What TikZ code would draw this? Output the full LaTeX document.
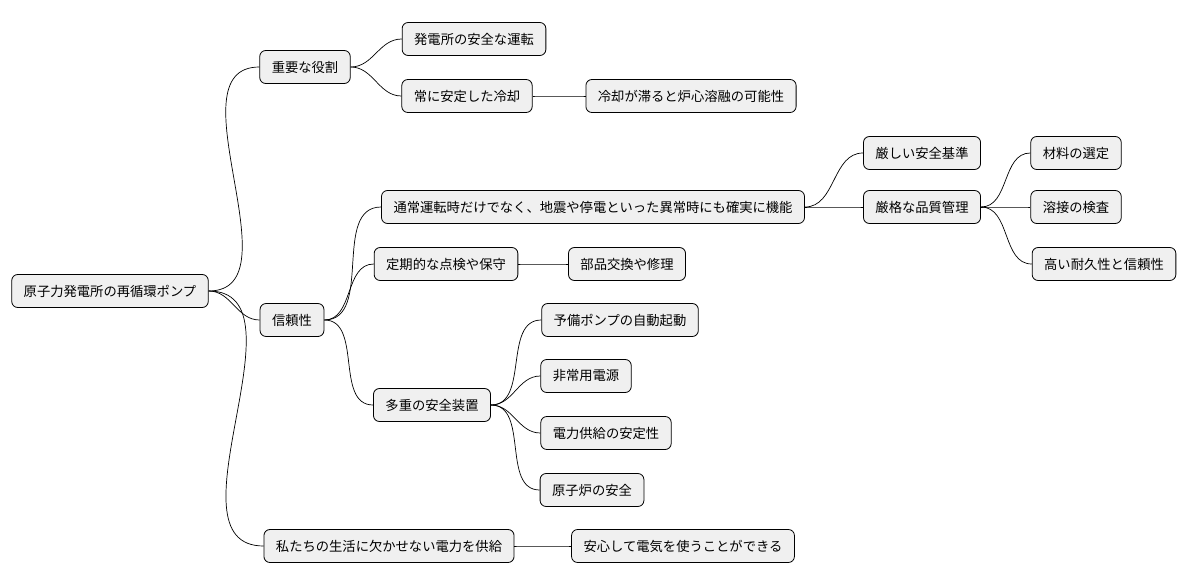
\documentclass[tikz,border=0pt]{standalone}
\usepackage{fontspec}
\setmainfont{Noto Sans CJK JP}
\usetikzlibrary{positioning}

\tikzset{
  topic/.style={draw=black, fill=black!6, rounded corners=6pt, line width=0.8pt,
    minimum height=33pt, inner xsep=12pt, font=\fontsize{13.3}{15}\selectfont},
  branch/.style={line width=0.7pt, out=0, in=180},
}

\begin{document}
\begin{tikzpicture}[x=1pt,y=-1pt]
 \useasboundingbox (0,0) rectangle (1188,583);

 % root and first level
 \node[topic] (root) at (110,291) {原子力発電所の再循環ポンプ};
 \node[topic] (role) at (305,67) {重要な役割};
 \node[topic] (rel) at (292,320) {信頼性};
 \node[topic] (life) at (389,546) {私たちの生活に欠かせない電力を供給};

 % role
 \node[topic] (safeop) at (474,39) {発電所の安全な運転};
 \node[topic] (cool) at (467,96) {常に安定した冷却};
 \node[topic] (melt) at (691,96) {冷却が滞ると炉心溶融の可能性};

 % reliability
 \node[topic] (normal) at (593,207) {通常運転時だけでなく、地震や停電といった異常時にも確実に機能};
 \node[topic] (std) at (922,153) {厳しい安全基準};
 \node[topic] (qc) at (922,207) {厳格な品質管理};
 \node[topic] (mat) at (1076,153) {材料の選定};
 \node[topic] (weld) at (1076,207) {溶接の検査};
 \node[topic] (dur) at (1104,264) {高い耐久性と信頼性};
 \node[topic] (maint) at (446,264) {定期的な点検や保守};
 \node[topic] (parts) at (627,264) {部品交換や修理};
 \node[topic] (multi) at (432,405) {多重の安全装置};
 \node[topic] (spare) at (620,320) {予備ポンプの自動起動};
 \node[topic] (epower) at (586,376) {非常用電源};
 \node[topic] (supply) at (606,433) {電力供給の安定性};
 \node[topic] (reactor) at (592,490) {原子炉の安全};

 % life
 \node[topic] (relief) at (683,546) {安心して電気を使うことができる};

 % connectors
 \foreach \a/\b in {root/role, root/rel, root/life, role/safeop, role/cool,
   cool/melt, rel/normal, rel/maint, rel/multi, normal/std, normal/qc,
   qc/mat, qc/weld, qc/dur, maint/parts, multi/spare, multi/epower,
   multi/supply, multi/reactor, life/relief}
   \draw[branch] (\a.east) to (\b.west);
\end{tikzpicture}
\end{document}
